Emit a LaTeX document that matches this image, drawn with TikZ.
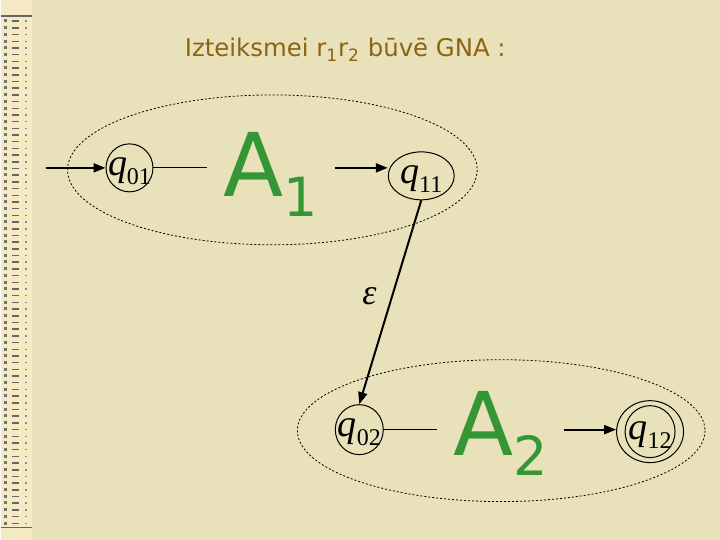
\documentclass[tikz,border=0pt]{standalone}
\usepackage{fontspec}
\setmainfont{DejaVu Sans}
\newfontfamily\serifq{Liberation Serif}
\usetikzlibrary{arrows.meta,shapes.geometric}
\definecolor{slidebg}{RGB}{232,225,186}
\definecolor{stripbg}{RGB}{246,234,196}
\definecolor{titlebrown}{RGB}{140,100,20}
\definecolor{autgreen}{RGB}{52,150,52}
\newcommand{\qst}[1]{{\serifq\fontsize{19}{19}\selectfont\itshape q}{\serifq\fontsize{12}{12}\selectfont\raisebox{-4.5pt}{#1}}}
\newcommand{\aut}[1]{{\fontsize{44}{44}\selectfont A}{\fontsize{27}{27}\selectfont\raisebox{-10pt}{#1}}}

\begin{document}
\begin{tikzpicture}[x=0.5pt, y=-0.5pt,
  state/.style={draw, ellipse, inner sep=0pt, line width=0.5pt},
  qlab/.style={yshift=-1.5pt},
  grp/.style={line width=0.4pt, dash pattern=on 1pt off 1pt},
  arr/.style={line width=1pt, -{Triangle[length=6pt, width=4.5pt]}},
  autom/.style={text=autgreen, inner xsep=8pt, inner ysep=0pt, anchor=base west}]
% slide background and side strip
\fill[slidebg] (0,0) rectangle (720,540);
\fill[stripbg] (0,0) rectangle (31,540);
\draw[line width=0.6pt, black!60] (0,16) -- (31,16) (0,528) -- (31,528);
\foreach \y in {19.5,26.2,...,525}{
  \fill[black!55] (3,\y) rectangle (6,\y+3);
  \fill[black!60] (11,\y+1) rectangle (18,\y+2.5);
  \fill[black!45] (24,\y+1) rectangle (26,\y+2.5);
}
\node[text=titlebrown, font=\fontsize{12.2}{14}\selectfont, anchor=base] (title) at (345,57) {Izteiksmei r\textsubscript{1}r\textsubscript{2} būvē GNA :};
% automata groups
\draw[grp] (272,170) ellipse [x radius=205, y radius=75];
\draw[grp] (501,431) ellipse [x radius=204, y radius=71];
\node[state, minimum width=23.5pt, minimum height=24pt, label={[qlab]center:\qst{01}}] (q01) at (129,168) {};
\node[state, minimum width=33pt, minimum height=24pt, label={[qlab]center:\qst{11}}] (q11) at (421,176) {};
\node[state, minimum width=24pt, minimum height=25pt, label={[qlab]center:\qst{02}}] (q02) at (359,430) {};
\node[state, minimum width=33.5pt, minimum height=31pt] (q12) at (650,432) {};
\node[state, minimum width=25pt, minimum height=26pt, label={[qlab]center:\qst{12}}] (q12in) at (q12) {};
\node[autom] (A1) at (207,197) {\aut{1}};
\node[autom] (A2) at (437,456) {\aut{2}};
\coordinate (in) at (45,168);
\draw[arr] (in) -- (q01);
\draw[line width=0.5pt] (q01.east) -- (q01.east -| A1.west);
\draw[arr] (A1.east |- q01) -- (q11.west |- q01);
\draw[line width=0.5pt] (q02.east) -- (q02.east -| A2.west);
\draw[arr] (A2.east |- q02) -- (q12.west |- q02);
\draw[arr] (q11.south) -- node[pos=0.47, left=4pt, font=\serifq\itshape\fontsize{18}{18}\selectfont] (eps) {ε} (q02.north);
\end{tikzpicture}
\end{document}
